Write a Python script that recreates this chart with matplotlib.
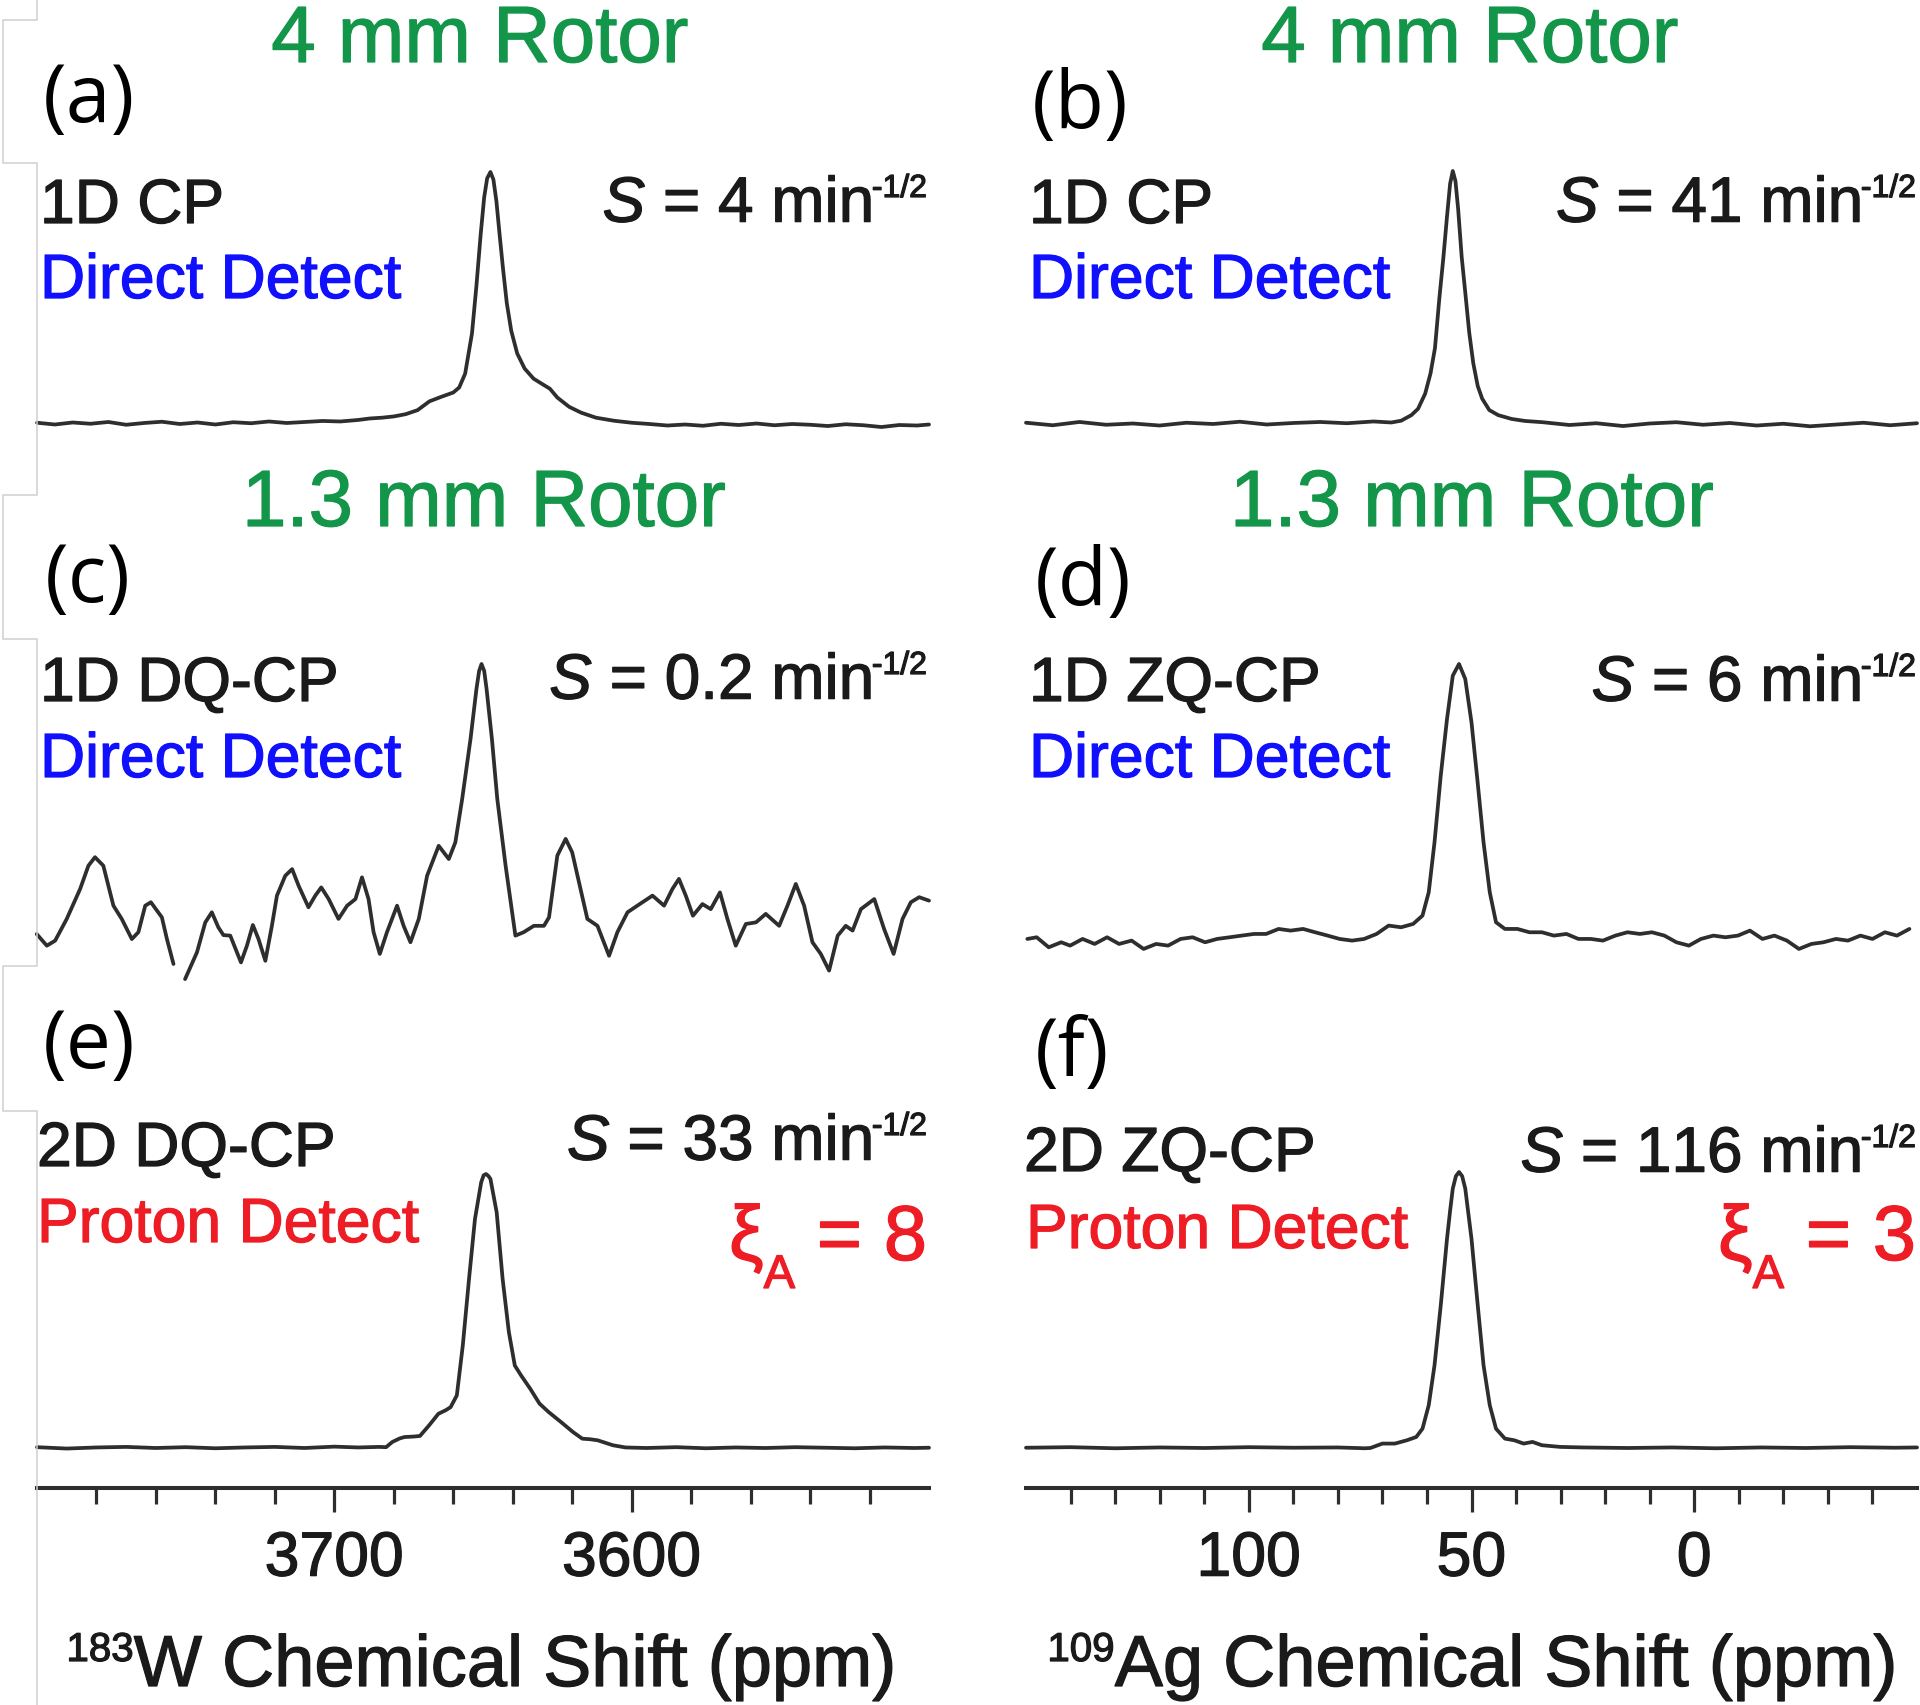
import matplotlib
matplotlib.use('Agg')
import matplotlib.pyplot as plt
import matplotlib.patheffects as pe
from matplotlib.ticker import FixedLocator, FixedFormatter, NullFormatter
from matplotlib.lines import Line2D

plt.rcParams['font.family'] = ['Liberation Sans', 'DejaVu Sans']
plt.rcParams['mathtext.fontset'] = 'custom'
plt.rcParams['mathtext.rm'] = 'Liberation Sans'
plt.rcParams['mathtext.it'] = 'Liberation Sans:italic'
plt.rcParams['mathtext.bf'] = 'Liberation Sans:bold'

nan = float('nan')

# ---------------- data ----------------
w_xlim = (3800, 3500)
w_major = [3700, 3600]
w_minor = [3780, 3760, 3740, 3720, 3680, 3660, 3640, 3620, 3580, 3560, 3540, 3520]
ag_xlim = (150, -50)
ag_major = [100, 50, 0]
ag_minor = [140, 130, 120, 110, 90, 80, 70, 60, 40, 30, 20, 10, -10, -20, -30, -40]

# (a) 183W 1D CP, 4 mm
ppm_a = [3800, 3794, 3788, 3782, 3776, 3770, 3764, 3758, 3752, 3746, 3740, 3734, 3728, 3722, 3716,
         3710, 3704, 3698, 3692, 3688, 3684, 3680, 3676, 3672, 3668, 3664, 3660, 3658, 3656, 3653.7,
         3652.2, 3650.8, 3649.6, 3648.6, 3647.5, 3646.5, 3645.5, 3644.4, 3643.3, 3642.0,
         3640.5, 3638.5, 3636, 3633, 3630, 3627.5, 3625, 3621, 3617, 3612,
         3606, 3600, 3594, 3588, 3582, 3576, 3570, 3564, 3558, 3552,
         3546, 3540, 3534, 3528, 3522, 3516, 3510, 3504, 3500]
int_a = [0.5, -0.2, 0.6, 0.1, 0.8, -0.3, 0.4, 0.9, 0.0, 0.6, -0.2, 0.7, 0.3, 1.0, 0.4,
         0.8, 1.2, 1.0, 1.6, 2.2, 2.5, 3.0, 3.9, 5.5, 9.0, 10.8, 12.5, 14.5, 20.0, 36.0,
         55.0, 75.0, 90.0, 97.5, 100.0, 97.0, 88.5, 75.0, 62.0, 48.0,
         37.0, 28.0, 22.0, 18.0, 15.8, 14.0, 10.5, 6.8, 4.5, 2.5,
         1.3, 0.5, 0.0, -0.6, -0.2, -0.7, 0.1, -0.4, 0.2, -0.5,
         0.0, -0.3, -0.8, -0.1, -0.5, -1.2, -0.4, -0.6, -0.2]

# (b) 109Ag 1D CP, 4 mm
ppm_b = [150, 144, 138, 132, 126, 120, 114, 108, 102, 96, 90, 84, 78, 72, 68,
         65.8, 63.5, 62.0, 60.4, 59.2, 58.2, 57.2, 56.3, 55.5, 54.8,
         54.2, 53.6, 53.0, 52.2, 51.4, 50.5, 49.6, 48.6, 47.6, 46.0,
         44.0, 41.0, 38.0, 34.0, 28, 22, 16, 10, 4, -2,
         -8, -14, -20, -26, -32, -38, -44, -50]
int_b = [0.5, -0.5, 0.8, -0.3, 0.2, -0.6, 0.5, 0.0, 0.9, -0.2, 0.4, 0.8, 0.3, 1.0, 0.6,
         1.3, 3.5, 6.0, 12.0, 20.0, 30.0, 50.0, 66.0, 82.0, 95.0,
         100.0, 96.0, 85.0, 66.0, 52.0, 36.0, 24.0, 15.0, 10.0, 5.5,
         3.5, 2.0, 1.2, 0.7, -0.4, 0.3, -0.8, 0.2, 0.7, -0.3,
         0.4, -0.6, 0.1, -0.9, -0.2, 0.5, -0.5, 0.3]

# (c) 183W 1D DQ-CP, 1.3 mm (noisy)
ppm_c = [3800.1, 3796.7, 3793.9, 3790.0, 3785.5, 3782.7, 3780.5, 3777.7, 3774.3, 3771.5,
         3768.1, 3765.9, 3763.6, 3761.7, 3758.0, 3756.3, 3754.1, nan, 3750.2, 3746.2,
         3743.4, 3741.2, 3739.0, 3737.3, 3735.0, 3731.4, 3729.4, 3727.4, 3725.5, 3723.2,
         3721.0, 3719.3, 3716.5, 3714.2, 3712.0, 3708.7, 3706.4, 3704.4, 3701.9, 3698.6,
         3695.7, 3692.9, 3690.7, 3688.5, 3686.8, 3684.7, 3682.3, 3678.9, 3676.7, 3674.4,
         3671.6, 3668.8, 3664.9, 3661.5, 3659.3, 3657.0, 3654.2, 3652.2, 3651.3, 3650.5,
         3649.6, 3648.8, 3647.0, 3645.2, 3642.4, 3639.1, 3636.3, 3632.9, 3629.5, 3627.8,
         3625.0, 3622.2, 3620.0, 3617.2, 3614.9, 3611.5, 3607.6, 3604.8, 3601.4, 3598.1,
         3593.0, 3589.1, 3586.3, 3584.1, 3581.8, 3579.4, 3576.2, 3573.4, 3570.3, 3567.8,
         3565.0, 3561.6, 3558.2, 3554.9, 3550.4, 3547.6, 3544.8, 3542.0, 3539.2, 3536.4,
         3533.6, 3530.7, 3528.0, 3525.7, 3522.9, 3518.4, 3515.1, 3511.9, 3508.9, 3506.1,
         3503.3, 3500.0]
int_c = [-1.9, -6.3, -4.4, 3.8, 15.1, 23.9, 27.1, 23.9, 8.8, 3.8,
         -3.8, -1.2, 8.8, 10.1, 4.4, -3.8, -13.2, nan, -18.9, -8.8,
         2.5, 6.3, 0.6, -2.3, -2.5, -12.6, -6.3, 1.5, -3.8, -12.0,
         1.2, 12.6, 20.1, 22.6, 16.3, 8.2, 12.6, 15.7, 11.3, 3.8,
         8.8, 11.3, 19.5, 11.3, -1.2, -9.4, -1.2, 8.8, 1.2, -5.0,
         3.8, 20.1, 31.4, 26.4, 32.7, 49.1, 71.7, 90.6, 97.4, 100.0,
         97.4, 90.6, 71.7, 49.1, 23.9, -2.5, -1.2, 1.2, 1.2, 4.4,
         27.7, 34.0, 28.9, 15.1, 3.8, 1.2, -10.1, -1.2, 6.3, 8.8,
         12.6, 8.8, 15.1, 18.9, 12.6, 5.0, 9.4, 7.5, 13.8, 3.8,
         -6.3, 1.9, 2.5, 5.7, 1.2, 8.8, 17.0, 8.8, -5.0, -9.4,
         -15.7, -2.5, 1.2, -0.6, 7.5, 11.3, 0.0, -9.4, 3.8, 10.1,
         12.0, 10.7]

# (d) 109Ag 1D ZQ-CP, 1.3 mm
ppm_d = [149.7, 147.6, 144.9, 142.1, 140.1, 137.3, 134.6, 131.8, 129.1, 126.3,
         123.6, 120.8, 118.1, 115.3, 112.6, 109.8, 107.1, 104.3, 101.6, 98.8,
         96.1, 93.3, 90.6, 87.8, 85.1, 82.3, 79.6, 76.8, 74.1, 71.3,
         68.6, 65.8, 63.1, 61.0, 59.6, 58.3, 56.9, 55.5, 54.2, 52.8,
         51.4, 50.0, 48.7, 47.3, 45.9, 44.5, 42.5, 39.7, 37.0, 34.2,
         31.5, 28.7, 26.0, 23.2, 20.5, 17.7, 15.0, 12.2, 9.5, 6.7,
         4.0, 1.2, -1.5, -4.3, -7.0, -9.8, -12.5, -15.3, -18.0, -20.8,
         -23.5, -26.3, -29.0, -31.8, -34.5, -37.3, -40.0, -42.8, -45.5, -48.3]
int_d = [1.1, 1.7, -1.9, -0.1, -1.3, 1.1, -0.7, 1.7, -0.7, 0.5,
         -2.5, -0.7, -1.3, 1.1, 1.7, -0.1, 1.1, 1.7, 2.3, 2.9,
         2.9, 4.7, 4.1, 4.7, 3.5, 2.3, 1.1, 0.5, 1.1, 2.9,
         5.9, 5.3, 6.5, 9.5, 17.9, 35.9, 59.9, 80.2, 95.8, 100.0,
         94.6, 79.0, 58.7, 35.9, 17.9, 7.1, 4.7, 4.7, 3.5, 3.5,
         2.3, 2.9, 1.1, 1.1, 0.5, 2.3, 3.5, 2.9, 3.5, 2.3,
         -0.1, -1.3, 1.1, 2.3, 1.7, 2.3, 4.1, 1.1, 2.3, 0.5,
         -2.5, -0.7, -0.1, 1.1, 0.5, 2.3, 1.1, 3.5, 2.3, 4.7]

# (e) 183W 2D DQ-CP, proton detect
ppm_e = [3800, 3790, 3780, 3770, 3760, 3750, 3740, 3730, 3720, 3710,
         3700, 3692, 3685, 3682.6, 3680.5, 3678.0, 3676.4, 3673.0, 3671.2, 3668.1,
         3665.0, 3662.5, 3660.9, 3658.8, 3656.8, 3654.7, 3652.7, 3650.6, 3649.8, 3649.0,
         3648.2, 3647.5, 3645.4, 3643.4, 3641.3, 3639.3, 3637.2, 3634.1, 3631.0, 3627.9,
         3623.8, 3619.7, 3616.6, 3614.0, 3611.4, 3606.3, 3602.1, 3595, 3585, 3575,
         3565, 3555, 3545, 3535, 3525, 3515, 3505, 3500]
int_e = [0.3, -0.2, 0.2, 0.4, 0.0, 0.3, -0.1, 0.2, 0.4, 0.0,
         0.5, 0.2, 0.4, 0.3, 2.2, 3.5, 4.0, 4.2, 4.4, 8.3,
         12.5, 13.8, 14.9, 19.2, 37.4, 61.7, 83.6, 97.0, 99.5, 100.0,
         99.3, 98.2, 86.0, 61.7, 42.3, 30.1, 26.5, 21.6, 16.2, 13.1,
         9.5, 5.8, 3.4, 3.2, 2.8, 1.0, 0.2, 0.0, 0.3, -0.1,
         0.2, 0.0, 0.3, 0.1, -0.1, 0.2, 0.0, 0.1]

# (f) 109Ag 2D ZQ-CP, proton detect
ppm_f = [150, 140, 130, 120, 110, 100, 90, 80, 74, 72.7,
         70.0, 67.2, 64.5, 62.4, 61.0, 59.6, 58.3, 56.9, 55.5, 54.8,
         54.2, 53.5, 52.8, 52.1, 51.4, 50.0, 48.6, 47.3, 45.9, 44.5,
         42.5, 40.4, 38.3, 36.3, 34.2, 30.1, 25, 15, 5, -5,
         -15, -25, -35, -45, -50]
int_f = [0.1, 0.3, -0.1, 0.2, 0.0, 0.3, 0.1, 0.2, -0.1, 0.0,
         1.6, 1.6, 2.8, 4.0, 7.0, 15.5, 30.0, 51.7, 75.8, 86.0,
         94.0, 98.5, 100.0, 98.5, 94.0, 75.8, 51.7, 30.0, 15.5, 7.0,
         3.4, 2.8, 1.6, 2.2, 1.0, 0.4, 0.2, 0.0, 0.2, -0.1,
         0.2, 0.0, 0.3, 0.1, 0.2]

# texts
rotor_labels = ["4 mm Rotor", "1.3 mm Rotor"]
panel_letters = ["(a)", "(b)", "(c)", "(d)", "(e)", "(f)"]
expt_labels = ["1D CP", "1D CP", "1D DQ-CP", "1D ZQ-CP", "2D DQ-CP", "2D ZQ-CP"]
detect_labels = ["Direct Detect", "Direct Detect", "Direct Detect", "Direct Detect",
                 "Proton Detect", "Proton Detect"]
s_values = ["4", "41", "0.2", "6", "33", "116"]
xi_values = ["8", "3"]
nuclei = [("183", "W"), ("109", "Ag")]

# ---------------- layout ----------------
W, H = 1920, 1706
fig = plt.figure(figsize=(W / 100, H / 100), dpi=100)
renderer = fig.canvas.get_renderer()

LINE = '#2e2e2e'
GREEN = '#14964a'
BLUE = '#1010ff'
RED = '#ee1c25'
TXT = '#1a1a1a'

colx = [(37, 929), (1026, 1917)]
rows = [[(425, 173), (425, 172)],
        [(930, 665), (943, 665)],
        [(1449, 1175), (1449, 1173)]]
AXIS_Y = 1489

data = [[(ppm_a, int_a), (ppm_b, int_b)],
        [(ppm_c, int_c), (ppm_d, int_d)],
        [(ppm_e, int_e), (ppm_f, int_f)]]
xlims = [w_xlim, ag_xlim]

for r in range(3):
    for c in range(2):
        x0, x1 = colx[c]
        base, peak = rows[r][c]
        bottom = AXIS_Y if r == 2 else base
        ax = fig.add_axes([x0 / W, 1 - bottom / H, (x1 - x0) / W, (bottom - peak) / H])
        ylo = -(bottom - base) / (base - peak) * 100
        ax.set_ylim(ylo, 100)
        ax.set_xlim(*xlims[c])
        ppm, inten = data[r][c]
        ax.plot(ppm, inten, color=LINE, lw=2.7, clip_on=False,
                solid_joinstyle='round', solid_capstyle='round')
        for s in ['top', 'left', 'right']:
            ax.spines[s].set_visible(False)
        ax.set_yticks([])
        ax.patch.set_alpha(0)
        if r == 2:
            ax.spines['bottom'].set_linewidth(2.9)
            ax.spines['bottom'].set_color(LINE)
            maj = w_major if c == 0 else ag_major
            mino = w_minor if c == 0 else ag_minor
            ax.xaxis.set_major_locator(FixedLocator(maj))
            ax.xaxis.set_major_formatter(FixedFormatter([str(v) for v in maj]))
            ax.xaxis.set_minor_locator(FixedLocator(mino))
            ax.xaxis.set_minor_formatter(NullFormatter())
            ax.tick_params(axis='x', which='major', direction='out', length=17, width=2.3,
                           color=LINE, labelsize=45, pad=13, labelcolor=TXT)
            ax.tick_params(axis='x', which='minor', direction='out', length=11.5, width=2.3,
                           color=LINE)
            for lab in ax.get_xticklabels():
                lab.set_path_effects([pe.withStroke(linewidth=0.9, foreground=TXT)])
        else:
            ax.spines['bottom'].set_visible(False)
            ax.set_xticks([])


def T(x, y, s, color=TXT, stroke=True, **kw):
    effects = [pe.withStroke(linewidth=0.9, foreground=color)] if stroke else None
    return fig.text(x / W, 1 - y / H, s, va='baseline', color=color,
                    path_effects=effects, **kw)


def width_of(s, **kw):
    t = fig.text(0, 0, s, **kw)
    w = t.get_window_extent(renderer).width
    t.remove()
    return w


def run(x, y, pieces, align='right'):
    """pieces: list of (text, fontsize, baseline_offset_px, color)"""
    widths = [width_of(p[0], fontsize=p[1]) for p in pieces]
    total = sum(widths)
    if align == 'right':
        cx = x - total
    elif align == 'center':
        cx = x - total / 2
    else:
        cx = x
    for (s, fs, dy, col), w in zip(pieces, widths):
        T(cx, y + dy, s, ha='left', fontsize=fs, color=col)
        cx += w


# rotor titles
for (x, y), s in zip([(480, 63), (1470, 63), (484, 527), (1472, 527)],
                     [rotor_labels[0], rotor_labels[0], rotor_labels[1], rotor_labels[1]]):
    T(x, y, s, ha='center', color=GREEN, fontsize=57.5)

# panel letters
letter_pos = [(43, 122), (1032, 128), (45, 602), (1035, 605), (43, 1068), (1035, 1076)]
for (x, y), s in zip(letter_pos, panel_letters):
    T(x, y, s, ha='left', color='black', stroke=False, fontsize=58,
      family=['Open Sans', 'DejaVu Sans'])

# experiment labels / detect labels / S values
expt_pos = [(40, 224), (1029, 224), (40, 702), (1029, 702), (37, 1167), (1024, 1172)]
det_pos = [(40, 299), (1029, 299), (40, 778), (1029, 778), (37, 1243), (1026, 1249)]
s_pos = [(927, 223), (1916, 223), (927, 700), (1916, 702), (927, 1161), (1916, 1173)]
det_col = [BLUE, BLUE, BLUE, BLUE, RED, RED]
for i in range(6):
    T(*expt_pos[i], expt_labels[i], ha='left', color=TXT, fontsize=45)
    T(*det_pos[i], detect_labels[i], ha='left', color=det_col[i], fontsize=45)
    run(s_pos[i][0], s_pos[i][1],
        [(r"$\mathit{S}$ = " + s_values[i] + " min", 46, 0, TXT),
         ("-1/2", 23, -25, TXT)])

# xi_A
for (x, y), v in zip([(927, 1261), (1916, 1261)], xi_values):
    run(x, y, [("ξ", 56, 0, RED), ("A", 34, 28, RED), (" = " + v, 56, 0, RED)])

# axis labels
for (x, y), (iso, el) in zip([(482, 1687), (1473, 1687)], nuclei):
    run(x, y, [(iso, 29, -25, TXT), (el + " Chemical Shift (ppm)", 52, 0, TXT)], align='center')

# faint frame artefact along the left edge
ex = [37, 37, 3, 3, 37, 37, 3, 3, 37, 37, 3, 3, 37, 37]
ey = [0, 21, 21, 164, 164, 496, 496, 640, 640, 967, 967, 1112, 1112, 1706]
fig.add_artist(Line2D([v / W for v in ex], [1 - v / H for v in ey], transform=fig.transFigure,
                      color='#cfcfcf', lw=1.1))

fig.savefig('out.png', dpi=100)
